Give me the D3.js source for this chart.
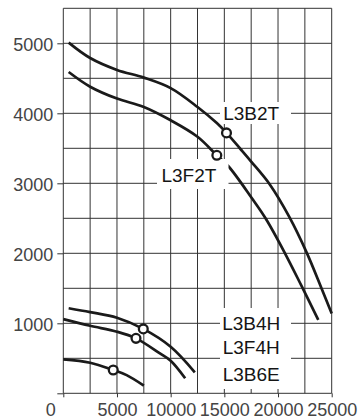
<!doctype html>
<html lang="en">
<head>
    <meta charset="UTF-8">
    <title>Pump curves</title>
    <style>
        html, body { margin: 0; padding: 0; background: #fff; }
        svg { display: block; }
        .tick text { font-family: "Liberation Sans", Arial, sans-serif; font-size: 18px; fill: #444; }
        .tick line { stroke: #333; }
        .lbl { font-family: "Liberation Sans", Arial, sans-serif; font-size: 19px; fill: #151515; }
    </style>
</head>
<body>
<svg id="chart" width="362" height="419"></svg>

<script src="https://cdn.jsdelivr.net/npm/d3@7"></script>
<script>
  // axis ticks
  const xTicks = [0, 5000, 10000, 15000, 20000, 25000]
  const yTicks = [0, 1000, 2000, 3000, 4000, 5000]

  // curves [x, y]
  const l3b2t = [[500, 5010], [2500, 4790], [5000, 4620], [7500, 4510], [10000, 4360], [12500, 4090],
    [14300, 3860], [15200, 3720], [16500, 3490], [17500, 3310], [19250, 2980], [21050, 2520],
    [22670, 2010], [24000, 1520], [25000, 1140]]
  const l3f2t = [[500, 4590], [2500, 4380], [5000, 4210], [7500, 4090], [10000, 3900], [12500, 3665],
    [14300, 3400], [15400, 3240], [17550, 2790], [18880, 2490], [20650, 2000], [22200, 1530], [23750, 1050]]
  const l3b4h = [[500, 1215], [2500, 1160], [5000, 1080], [7450, 920], [10000, 665], [12250, 300]]
  const l3f4h = [[0, 1060], [2500, 965], [5000, 880], [6770, 785], [9000, 570], [10000, 465], [11350, 215]]
  const l3b6e = [[0, 485], [2500, 437], [4650, 333], [5900, 260], [7500, 110]]

  // duty points (circles)
  const dutyPoints = [[15200, 3720], [14300, 3400], [7450, 920], [6770, 785], [4650, 333]]

  // series names and where their labels sit (data units)
  const names = ['L3B2T', 'L3F2T', 'L3B4H', 'L3F4H', 'L3B6E']
  const labelAt = [[17500, 4000], [11700, 3110], [17500, 1000], [17500, 665], [17500, 270]]

  const x = d3.scaleLinear().domain([0, 25000]).range([63.3, 331.7])
  const y = d3.scaleLinear().domain([0, 5500]).range([393.3, 8.3])

  const svg = d3.select('#chart')

  // grid
  const grid = svg.append('g').attr('stroke', '#333').attr('stroke-width', 1)
  grid.selectAll('.v').data(d3.range(0, 25001, 2500)).join('line')
    .attr('x1', d => x(d)).attr('x2', d => x(d))
    .attr('y1', y(0)).attr('y2', y(5500))
  grid.selectAll('.h').data(d3.range(0, 5501, 500)).join('line')
    .attr('x1', x(0)).attr('x2', x(25000))
    .attr('y1', d => y(d)).attr('y2', d => y(d))

  // axes
  const xAxis = svg.append('g')
    .attr('transform', `translate(0,${y(0)})`)
    .call(d3.axisBottom(x).tickValues(xTicks).tickSize(4).tickPadding(6).tickFormat(d3.format('d')))
  xAxis.select('.domain').remove()
  xAxis.selectAll('.tick text').filter(d => d === 0).attr('x', -13)

  const yAxis = svg.append('g')
    .attr('transform', `translate(${x(0)},0)`)
    .call(d3.axisLeft(y).tickValues(yTicks).tickSize(6).tickPadding(4).tickFormat(d => d ? d : ''))
  yAxis.select('.domain').remove()
  yAxis.selectAll('.tick text').attr('dy', '0.42em')

  // curves
  const line = d3.line()
    .x(d => x(d[0]))
    .y(d => y(d[1]))
    .curve(d3.curveCatmullRom.alpha(0.5))

  svg.append('g').selectAll('path')
    .data([l3b2t, l3f2t, l3b4h, l3f4h, l3b6e])
    .join('path')
    .attr('d', line)
    .attr('fill', 'none')
    .attr('stroke', '#1a1a1a')
    .attr('stroke-width', 2.7)

  // white label boxes that cut the grid
  const boxes = [[220, 102, 291, 124], [157, 159, 228.5, 189], [220, 308, 291, 389]]
  svg.append('g').selectAll('rect').data(boxes).join('rect')
    .attr('x', d => d[0]).attr('y', d => d[1])
    .attr('width', d => d[2] - d[0]).attr('height', d => d[3] - d[1])
    .attr('fill', '#fff')

  svg.append('g').selectAll('circle').data(dutyPoints).join('circle')
    .attr('cx', d => x(d[0])).attr('cy', d => y(d[1]))
    .attr('r', 4.4)
    .attr('fill', '#fff')
    .attr('stroke', '#1a1a1a')
    .attr('stroke-width', 2.3)

  svg.append('g').selectAll('text').data(names).join('text')
    .attr('class', 'lbl')
    .attr('x', (d, i) => x(labelAt[i][0]))
    .attr('y', (d, i) => y(labelAt[i][1]))
    .attr('dy', '0.36em')
    .attr('text-anchor', 'middle')
    .text(d => d)
</script>
</body>
</html>
